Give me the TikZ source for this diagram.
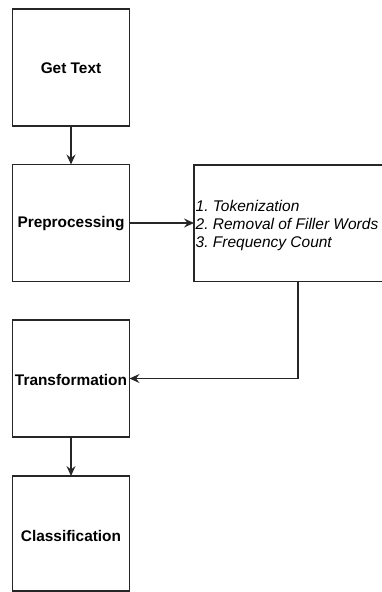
\documentclass[tikz,border=0pt]{standalone}
\usepackage{fontspec}
\setmainfont{Liberation Sans}
\usetikzlibrary{arrows.meta}
\frenchspacing
\begin{document}
\begin{tikzpicture}[x=1pt,y=-1pt,
  box/.style={draw=black!85,line width=1.2pt,fill=white},
  lbl/.style={font=\fontsize{15.4}{18}\selectfont\bfseries,inner sep=0pt},
  conn/.style={draw=black!85,line width=1.2pt,-{Stealth[length=10pt,width=9pt,inset=3.5pt]}}]
\useasboundingbox (0,0) rectangle (381,592);
% boxes
\draw[box] (12.5,9) rectangle (129.5,126);
\node[lbl] (gt) at (71,68) {Get Text};
\coordinate (gtS) at (71,126);
\draw[box] (12.5,164.5) rectangle (129.5,281.5);
\node[lbl] (pp) at (71,224) {Preprocessing};
\coordinate (ppN) at (71,164.5);
\coordinate (ppE) at (129.5,223);
\draw[box] (194,165) rectangle (420,281.5);
\coordinate (lsW) at (194,223);
\coordinate (lsS) at (298,281.5);
\node[anchor=west,align=left,inner sep=0pt,font=\fontsize{15.5}{18}\selectfont\itshape] (ls) at (195.5,225) {1. Tokenization\\2. Removal of Filler Words\\3. Frequency Count};
\draw[box] (12.5,320) rectangle (129.5,437);
\node[lbl] (tr) at (71,379.5) {Transformation};
\coordinate (trE) at (129.5,378.5);
\coordinate (trS) at (71,437);
\draw[box] (12.5,476) rectangle (129.5,591);
\node[lbl] (cl) at (71,535.5) {Classification};
\coordinate (clN) at (71,476);
% connectors
\draw[conn] (gtS) -- (ppN);
\draw[conn] (ppE) -- (lsW);
\draw[conn] (lsS) |- (trE);
\draw[conn] (trS) -- (clN);
\end{tikzpicture}
\end{document}
